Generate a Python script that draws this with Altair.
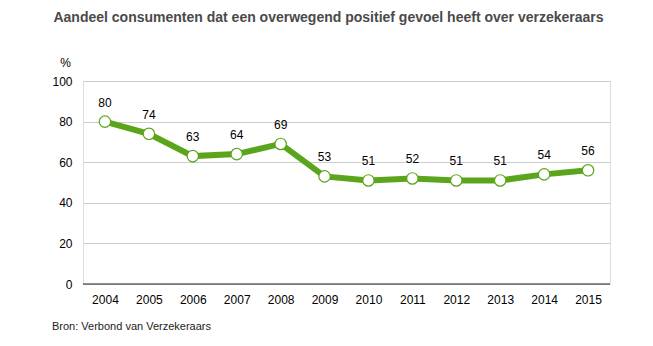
import altair as alt
import pandas as pd

years = ["2004", "2005", "2006", "2007", "2008", "2009", "2010", "2011", "2012", "2013", "2014", "2015"]
values = [80, 74, 63, 64, 69, 53, 51, 52, 51, 51, 54, 56]

df = pd.DataFrame({"jaar": years, "waarde": values})

FONT = "Liberation Sans"
GREEN = "#5aa51c"

x = alt.X("jaar:O", sort=years, scale=alt.Scale(type="point", padding=0.5),
          axis=alt.Axis(title=None, labelAngle=0, labelFontSize=12, labelColor="#000",
                        labelFont=FONT, ticks=False, domain=False, labelPadding=10, grid=False))
y = alt.Y("waarde:Q", scale=alt.Scale(domain=[0, 100]),
          axis=alt.Axis(title="%", titleAngle=0, titleX=-18, titleY=-19, titleFont=FONT,
                        titleFontSize=12, titleFontWeight="normal", titleColor="#000",
                        titleAlign="center", titleBaseline="middle",
                        values=[0, 20, 40, 60, 80, 100], labelFontSize=12, labelColor="#000",
                        labelFont=FONT, ticks=False, domain=False, labelPadding=11,
                        grid=True, gridColor="#cccccc", gridWidth=1))

base = alt.Chart(df)
zero = alt.Chart(pd.DataFrame({"z": [0]})).mark_rule(color="#222", strokeWidth=1).encode(y="z:Q")
line = base.mark_line(color=GREEN, strokeWidth=6).encode(x=x, y=y)
pts = base.mark_point(filled=True, fill="white", stroke=GREEN, strokeWidth=1.2, size=130, opacity=1).encode(x=x, y=y)
labels = base.mark_text(dy=-19, fontSize=12, font=FONT, color="#000").encode(x=x, y=y, text="waarde:Q")
source = alt.Chart(pd.DataFrame({"t": ["Bron: Verbond van Verzekeraars"]})).mark_text(
    align="left", baseline="middle", fontSize=11, font=FONT, color="#222"
).encode(x=alt.value(-31), y=alt.value(246), text="t:N")

chart = alt.layer(line, zero, pts, labels, source).properties(
    width=527, height=203,
    title=alt.TitleParams("Aandeel consumenten dat een overwegend positief gevoel heeft over verzekeraars",
                          font=FONT, fontSize=14, fontWeight="bold", color="#4a4a4a",
                          anchor="middle", dx=-18, offset=31),
    autosize=alt.AutoSizeParams(type="none"),
    padding={"left": 83, "top": 81, "right": 43, "bottom": 62},
).configure_view(stroke=None).configure(background="white")

chart.save("out.html", embed_options={"renderer": "svg", "actions": False})
